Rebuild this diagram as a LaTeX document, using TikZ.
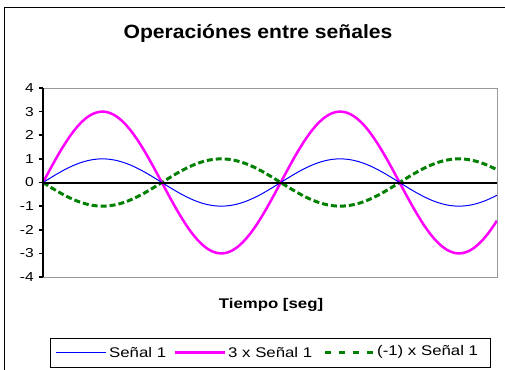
\documentclass[tikz,border=0pt]{standalone}
\usepackage{graphicx}
\usepackage{fontspec}
\setmainfont{Liberation Sans}
\newcommand{\sxA}[1]{\scalebox{1.2}[1]{#1}}
\newcommand{\sxT}[1]{\scalebox{1.1}[1]{#1}}
\definecolor{sblue}{RGB}{0,0,255}
\definecolor{smag}{RGB}{255,0,255}
\definecolor{sgreen}{RGB}{0,128,0}
\tikzset{
  frameline/.style={black, line width=1.5pt},
  plotframe/.style={draw=gray!80, line width=0.8pt},
  axisline/.style={black, line width=1.6pt},
  zeroline/.style={black, line width=2pt},
  s1line/.style={sblue, line width=1pt},
  s3line/.style={smag, line width=2.5pt},
  sneg/.style={sgreen, line width=3pt, dash pattern=on 6pt off 3pt},
  ticklbl/.style={anchor=east, inner sep=0pt, font=\fontsize{13}{15}\selectfont},
  lbl/.style={inner sep=0pt, font=\fontsize{14}{16}\selectfont},
  ttl/.style={inner sep=0pt, font=\fontsize{19.2}{22}\selectfont\bfseries},
}
\begin{document}
\begin{tikzpicture}[x=1pt,y=-1pt]
\useasboundingbox (0,0) rectangle (505,369);
\fill[white] (0,0) rectangle (505,369);
% outer frame
\coordinate (fbl) at (4.5,370);
\coordinate (ftl) at (4.5,7.5);
\coordinate (ftr) at (506,7.5);
\draw[frameline] (fbl) -- (ftl) -- (ftr);
% title
\node[ttl] (title) at (258,33) {\sxT{Operaciónes entre señales}};
% plot area
\coordinate (pa) at (43,88);
\coordinate (pb) at (497,277);
\draw[plotframe] (pa) rectangle (pb);
% curves
\begin{scope}
\clip (pa) rectangle (pb);
\draw[sneg] plot[domain=0:12, samples=240, smooth, variable=\t] ({43+37.833*\t},{182.5+23.625*sin(\t r)});
\draw[s3line] plot[domain=0:12, samples=240, smooth, variable=\t] ({43+37.833*\t},{182.5-3*23.625*sin(\t r)});
\draw[s1line] plot[domain=0:12, samples=240, smooth, variable=\t] ({43+37.833*\t},{182.5-23.625*sin(\t r)});
\end{scope}
% zero line
\coordinate (z0) at (43,182.5);
\coordinate (z1) at (497,182.5);
\draw[zeroline] (z0) -- (z1);
% y axis
\coordinate (ytop) at (43,88);
\coordinate (ybot) at (43,277);
\draw[axisline] (ytop) -- (ybot);
\foreach \v in {-4,...,4} {
  \coordinate (tk\v) at (43,{182.5-23.625*\v});
  \draw[axisline] (tk\v) -- ++(-4,0);
  \node[ticklbl] (yl\v) at (34,{182.5-23.625*\v}) {\sxA{\v}};
}
% axis title
\node[lbl, font=\fontsize{14}{16}\selectfont\bfseries] (xt) at (271,305) {\sxA{Tiempo [seg]}};
% legend
\node[draw=black, line width=1pt, minimum width=440pt, minimum height=29pt, inner sep=0pt] (leg) at (270,352.5) {};
\coordinate (l1a) at (56,352.5); \coordinate (l1b) at (106,352.5);
\draw[s1line] (l1a) -- (l1b);
\node[lbl, anchor=west] (t1) at (109,352) {\sxA{Señal 1}};
\coordinate (l2a) at (175,352.5); \coordinate (l2b) at (225,352.5);
\draw[s3line] (l2a) -- (l2b);
\node[lbl, anchor=west] (t2) at (228,352) {\sxA{3 x Señal 1}};
\coordinate (l3a) at (325,352.5); \coordinate (l3b) at (376,352.5);
\draw[sgreen, line width=3pt, dash pattern=on 6pt off 8pt] (l3a) -- (l3b);
\node[lbl, anchor=west] (t3) at (377,352) {\sxA{(-1) x Señal 1}};
\end{tikzpicture}
\end{document}
